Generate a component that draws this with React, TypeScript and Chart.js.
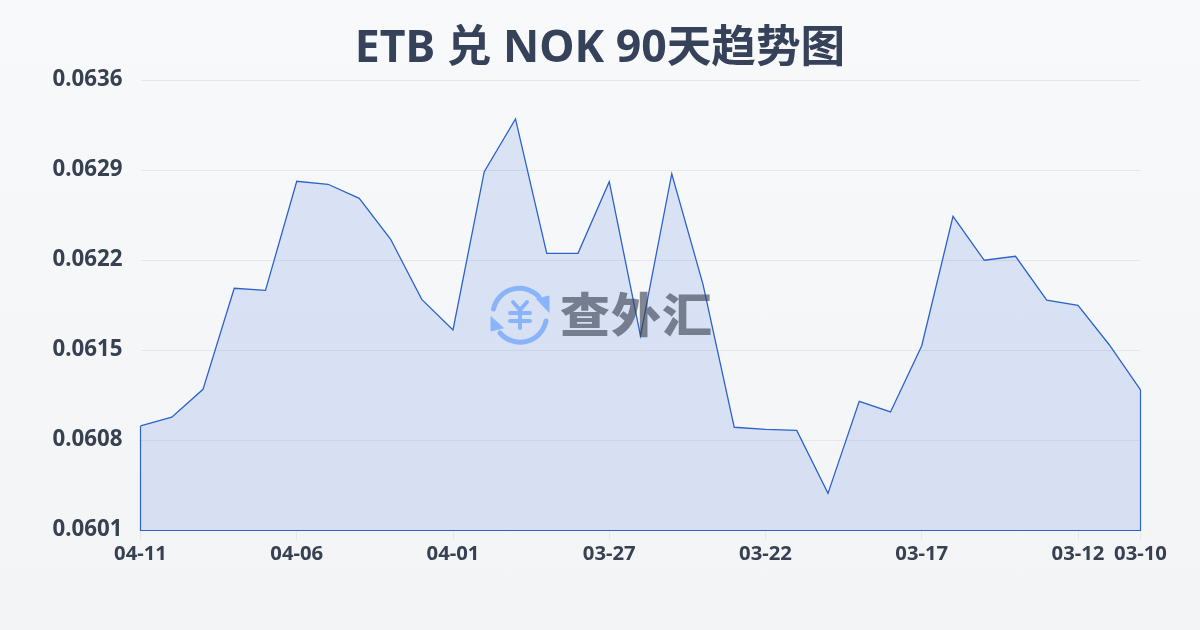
import React, { useEffect, useRef } from "react";
import { Chart, registerables } from "chart.js";

Chart.register(...registerables);

const TITLE = "ETB 兑 NOK 90天趋势图";
const WATERMARK = "查外汇";
const FONT = '"Noto Sans", "Noto Sans CJK SC", sans-serif';

const dates = [
  "04-11", "04-10", "04-09", "04-08", "04-07", "04-06", "04-05", "04-04", "04-03", "04-02", "04-01",
  "03-31", "03-30", "03-29", "03-28", "03-27", "03-26", "03-25", "03-24", "03-23", "03-22",
  "03-21", "03-20", "03-19", "03-18", "03-17", "03-16", "03-15", "03-14", "03-13", "03-12", "03-11", "03-10",
];
const rates = [
  0.060909, 0.060977, 0.061194, 0.06198, 0.061964, 0.062812, 0.062789, 0.06268, 0.062363, 0.061894, 0.061656,
  0.062887, 0.063297, 0.062252, 0.062252, 0.062809, 0.061609, 0.062871, 0.062011, 0.060899, 0.060883,
  0.060875, 0.060385, 0.061101, 0.061018, 0.061533, 0.06254, 0.062198, 0.062229, 0.061887, 0.061848, 0.061541, 0.061189,
];
const shownDates = ["04-11", "04-06", "04-01", "03-27", "03-22", "03-17", "03-12", "03-10"];
const yMin = 0.0601;
const yMax = 0.0636;
const yStep = 0.0007;

const LINE = "#2c62c9";
const TEXT = "#374151";

// Closes the outline of the area: down both ends and along the baseline.
const outlinePlugin = {
  id: "outline",
  afterDatasetsDraw(chart: any) {
    const pts = chart.getDatasetMeta(0).data;
    const base = Math.round(chart.scales.y.getPixelForValue(yMin)) + 0.5;
    const first = pts[0];
    const last = pts[pts.length - 1];
    const ctx = chart.ctx;
    ctx.save();
    ctx.strokeStyle = LINE;
    ctx.lineWidth = 1.2;
    ctx.beginPath();
    ctx.moveTo(first.x, first.y);
    ctx.lineTo(first.x, base);
    ctx.lineTo(last.x, base);
    ctx.lineTo(last.x, last.y);
    ctx.stroke();
    ctx.restore();
  },
};

export default function App() {
  const ref = useRef<HTMLCanvasElement>(null);

  useEffect(() => {
    const chart = new Chart(ref.current!, {
      type: "line",
      plugins: [outlinePlugin],
      data: {
        labels: dates,
        datasets: [
          {
            data: rates,
            borderColor: LINE,
            borderWidth: 1.3,
            backgroundColor: "rgba(46,106,216,0.15)",
            fill: "start",
            pointRadius: 0,
            tension: 0,
          },
        ],
      },
      options: {
        responsive: false,
        animation: false,
        layout: { padding: { right: 59.5, left: 1, top: 80, bottom: 0 } },
        plugins: {
          legend: { display: false },
          tooltip: { enabled: false },
          title: { display: false },
        },
        scales: {
          x: {
            afterFit(s: any) {
              s.height = 100;
            },
            border: { display: false },
            grid: {
              drawOnChartArea: false,
              drawTicks: true,
              tickLength: 10,
              color: (c: any) => (shownDates.includes(dates[c.index]) ? "#e5e7eb" : "transparent"),
            },
            ticks: {
              autoSkip: false,
              maxRotation: 0,
              minRotation: 0,
              padding: 2,
              color: TEXT,
              font: { family: FONT, size: 20.3, weight: "bold" },
              callback: (_v: any, i: number) => (shownDates.includes(dates[i]) ? dates[i] : ""),
            },
          },
          y: {
            min: yMin,
            max: yMax,
            afterFit(s: any) {
              s.width = 139.5;
            },
            border: { display: false },
            grid: { drawTicks: false, color: "#e5e7eb", lineWidth: 1 },
            ticks: {
              stepSize: yStep,
              padding: 18,
              labelOffset: 0,
              color: TEXT,
              font: { family: FONT, size: 22.3, weight: "bold" },
              callback: (v: any) => Number(v).toFixed(4),
            },
          },
        },
      },
    } as any);
    return () => chart.destroy();
  }, []);

  return (
    <div
      style={{
        position: "fixed",
        left: 0,
        top: 0,
        width: 1200,
        height: 630,
        background: "linear-gradient(180deg,#f8f9fb,#f3f4f6)",
        overflow: "hidden",
      }}
    >
      <canvas ref={ref} width={1200} height={630} style={{ display: "block" }} />
      <div
        style={{
          position: "absolute",
          left: 0,
          top: 14,
          width: 1200,
          textAlign: "center",
          fontFamily: FONT,
          fontSize: 44.6,
          fontWeight: 700,
          lineHeight: "62px",
          color: "#36425a",
          whiteSpace: "nowrap",
        }}
      >
        {TITLE}
      </div>
      <svg
        viewBox="0 0 66 66"
        width={66}
        height={66}
        style={{ position: "absolute", left: 487, top: 282 }}
        fill="none"
        stroke="#8ab4f8"
        strokeLinecap="round"
      >
        <path d="M6.5 27 A26.5 26.5 0 0 1 52 15" strokeWidth={5} />
        <path d="M59 39 A26.5 26.5 0 0 1 13 51" strokeWidth={5} />
        <path d="M50 17 L62 14 L62 30 Z" fill="#8ab4f8" strokeWidth={1} strokeLinejoin="round" />
        <path d="M4 35 L4 49 L16 46 Z" fill="#8ab4f8" strokeWidth={1} strokeLinejoin="round" />
        <path d="M26 20 L33 28 L40 20 M23 31 H43 M23 39 H43 M33 28 V46" strokeWidth={4} />
      </svg>
      <div
        style={{
          position: "absolute",
          left: 560,
          top: 277,
          fontFamily: '"Noto Sans CJK SC", sans-serif',
          fontSize: 50,
          fontWeight: 900,
          letterSpacing: 1,
          lineHeight: "72px",
          color: "rgba(55,65,81,0.62)",
          whiteSpace: "nowrap",
          transform: "scaleY(0.93)",
          transformOrigin: "0 15px",
        }}
      >
        {WATERMARK}
      </div>
    </div>
  );
}
